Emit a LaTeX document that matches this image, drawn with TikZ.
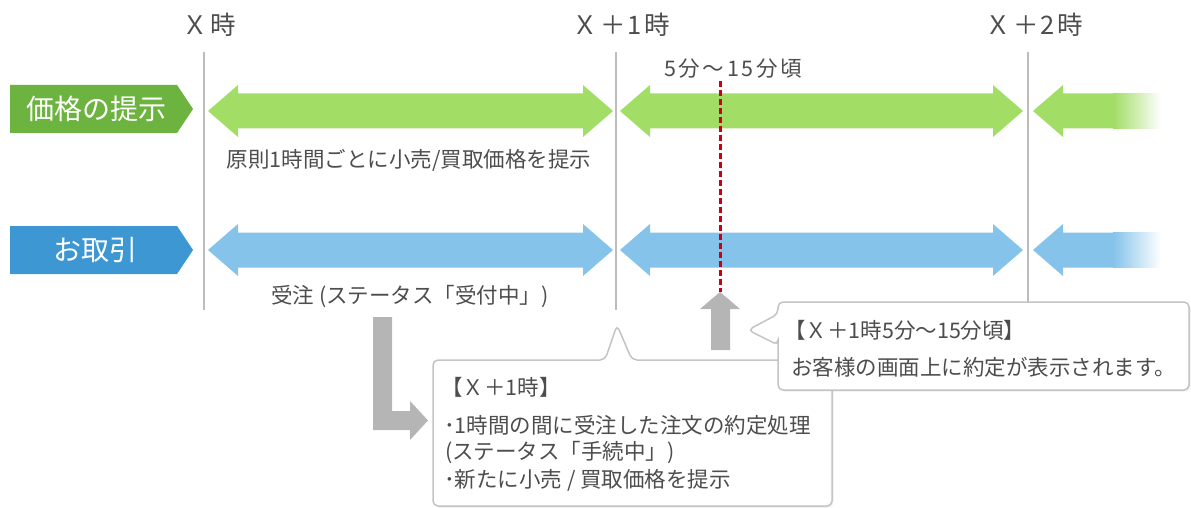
\documentclass[tikz,border=0pt]{standalone}
\usepackage{fontspec}
\setmainfont{Noto Sans CJK JP}
\usetikzlibrary{shadows}
\definecolor{txt}{HTML}{4D4D4D}
\definecolor{glabel}{HTML}{6DB33F}
\definecolor{garrow}{HTML}{A2DD66}
\definecolor{blabel}{HTML}{3D97D3}
\definecolor{barrow}{HTML}{85C3EB}
\definecolor{grayarr}{HTML}{B5B5B5}
\definecolor{vline}{HTML}{BDBDBD}
\definecolor{reddash}{HTML}{CC0010}
\definecolor{cborder}{HTML}{C4C4C4}
\newcommand\dblarrow[4]{%
  \fill[#4] (#1,#3) -- (#1+30,#3-26) -- (#1+30,#3-17.5) -- (#2-30,#3-17.5) -- (#2-30,#3-26) -- (#2,#3)
   -- (#2-30,#3+26) -- (#2-30,#3+17.5) -- (#1+30,#3+17.5) -- (#1+30,#3+26) -- cycle;}
\newcommand\fadearrow[3]{%
  \fill[#3] (#1,#2) -- (#1+30,#2-26) -- (#1+30,#2-17.5) -- (#1+81,#2-17.5) -- (#1+81,#2+17.5)
   -- (#1+30,#2+17.5) -- (#1+30,#2+26) -- cycle;
  \shade[left color=#3, right color=white] (#1+80,#2-17.5) rectangle (#1+128,#2+17.5);}
\begin{document}
\begin{tikzpicture}[x=1pt,y=-1pt,
  toplabel/.style={text=txt, font=\fontsize{25.5}{28}\selectfont\addfontfeatures{LetterSpace=9}, inner sep=0pt},
  bodytext/.style={text=txt, font=\fontsize{21.5}{24}\selectfont, inner sep=0pt},
  rowlabel/.style={text=white, font=\fontsize{28}{30}\selectfont, inner sep=0pt},
  timeline/.style={draw=vline, line width=2.2pt},
  callout/.style={draw=cborder, line width=1.5pt, fill=white, rounded corners=5pt,
     drop shadow={opacity=0.12, shadow xshift=1.5pt, shadow yshift=-1.5pt}},
  grayarrow/.style={fill=grayarr}
]
\useasboundingbox (0,0) rectangle (1191,508);

% time lines
\coordinate (t0top) at (204,52); \coordinate (t0bot) at (204,310);
\coordinate (t1top) at (616,52); \coordinate (t1bot) at (616,310);
\coordinate (t2top) at (1028,52); \coordinate (t2bot) at (1028,305);
\draw[timeline] (t0top) -- (t0bot);
\draw[timeline] (t1top) -- (t1bot);
\draw[timeline] (t2top) -- (t2bot);

\node[toplabel] (lx0) at (209,25) {Ｘ時};
\node[toplabel] (lx1) at (621,25) {Ｘ＋1時};
\node[toplabel] (lx2) at (1034,25) {Ｘ＋2時};

% row labels
\fill[glabel] (10,85) -- (177,85) -- (193,109) -- (177,133) -- (10,133) -- cycle;
\node[rowlabel] (price) at (96,109) {価格の提示};
\fill[blabel] (10,226) -- (177,226) -- (193,250) -- (177,274) -- (10,274) -- cycle;
\node[rowlabel] (trade) at (95,250) {お取引};

% green arrows
\dblarrow{208}{613}{111}{garrow}
\dblarrow{620}{1023}{111}{garrow}
\fadearrow{1033}{111}{garrow}
% blue arrows
\dblarrow{208}{613}{250}{barrow}
\dblarrow{620}{1023}{250}{barrow}
\fadearrow{1033}{250}{barrow}

\node[bodytext] (ptext) at (409,160) {原則1時間ごとに小売/買取価格を提示};
\node[bodytext] (otext) at (410,297) {受注 (ステータス「受付中」)};

% 5-15 min
\node[bodytext, font=\fontsize{21.5}{24}\selectfont\addfontfeatures{LetterSpace=12}] (min) at (733,69) {5分〜15分頃};
\coordinate (rtop) at (720,81);
\coordinate (rbot) at (720,292);
\draw[draw=reddash, line width=3pt, dash pattern=on 6pt off 3pt] (rtop) -- (rbot);

% gray up arrow
\fill[grayarrow] (720,292) -- (740,309) -- (730,309) -- (730,350) -- (711,350) -- (711,309) -- (700,309) -- cycle;
% gray L arrow
\fill[grayarrow] (373,317) -- (392,317) -- (392,411) -- (410,411) -- (410,401) -- (428,420.5) -- (410,440) -- (410,430) -- (373,430) -- cycle;

% lower callout
\draw[callout] (433,430) -- (433,360) -- (605,360) -- (617,325) -- (632,360) -- (832,360) -- (832,506) -- (433,506) -- cycle;
\node[bodytext, anchor=west] (c1title) at (441,387) {【Ｘ＋1時】};
\node[bodytext, anchor=west] (c1l1) at (444,425) {･1時間の間に受注した注文の約定処理};
\node[bodytext, anchor=west] (c1l2) at (445,453) {(ステータス「手続中」)};
\node[bodytext, anchor=west] (c1l3) at (444,480) {･新たに小売 / 買取価格を提示};

% right callout
\draw[callout] (778,340) -- (778,345) -- (748,330) -- (778,314) -- (778,302) -- (1189,302) -- (1189,390) -- (778,390) -- cycle;
\node[bodytext, anchor=west] (c2title) at (784,330) {【Ｘ＋1時5分〜15分頃】};
\node[bodytext, anchor=west] (c2l1) at (791,367) {お客様の画面上に約定が表示されます。};
\end{tikzpicture}
\end{document}
